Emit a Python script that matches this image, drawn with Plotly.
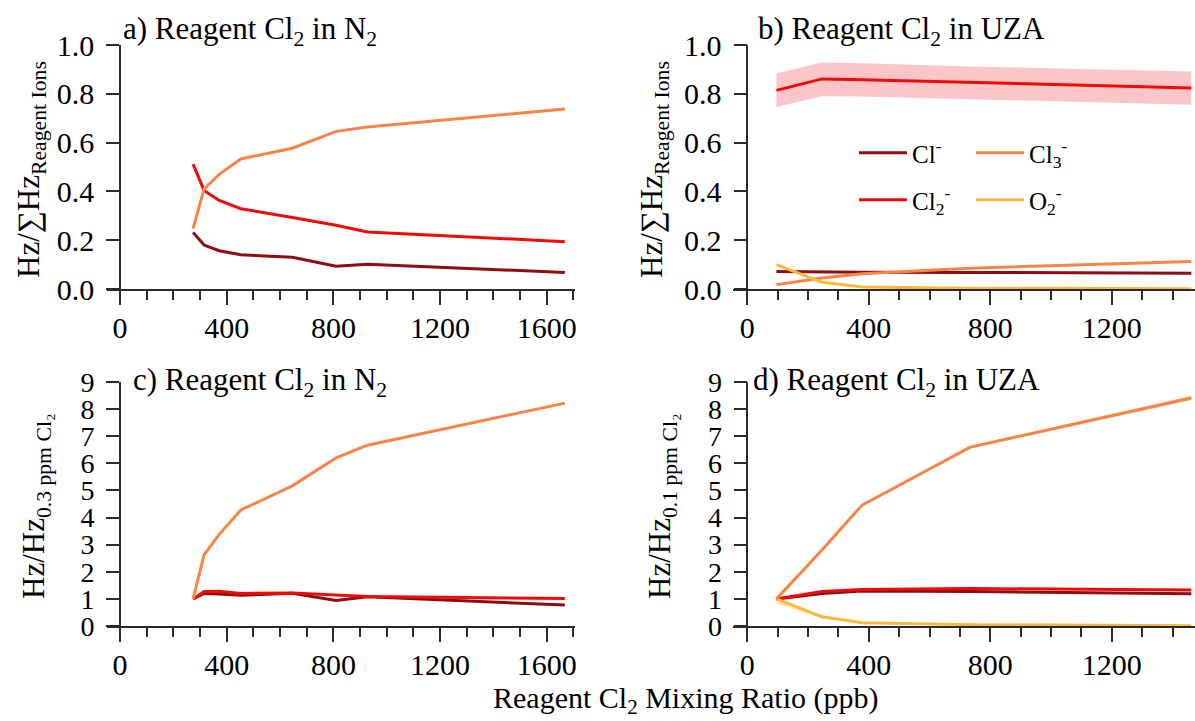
import plotly.graph_objects as go

# ---------------- data ----------------
# Reagent Cl2 in N2 (ppb)
x_n2 = [274, 315, 372, 453, 646, 810, 928, 1668]
a_cl = [0.232, 0.180, 0.157, 0.140, 0.130, 0.093, 0.101, 0.068]
a_cl2 = [0.512, 0.404, 0.363, 0.329, 0.293, 0.261, 0.234, 0.194]
a_cl3 = [0.248, 0.410, 0.470, 0.533, 0.577, 0.646, 0.664, 0.738]

c_cl = [1.0, 1.20, 1.18, 1.13, 1.21, 0.94, 1.08, 0.77]
c_cl2 = [1.0, 1.27, 1.28, 1.20, 1.22, 1.16, 1.09, 1.01]
c_cl3 = [1.0, 2.62, 3.38, 4.28, 5.17, 6.20, 6.67, 8.22]

# Reagent Cl2 in UZA (ppb)
x_uza = [96, 246, 378, 734, 1462]
b_cl = [0.072, 0.070, 0.069, 0.068, 0.065]
b_cl2 = [0.814, 0.861, 0.858, 0.846, 0.824]
b_cl2_hi = [0.884, 0.928, 0.925, 0.912, 0.891]
b_cl2_lo = [0.746, 0.790, 0.789, 0.778, 0.755]
b_cl3 = [0.018, 0.045, 0.062, 0.085, 0.113]
b_o2 = [0.100, 0.028, 0.008, 0.003, 0.001]

d_cl = [1.0, 1.20, 1.29, 1.27, 1.19]
d_cl2 = [1.0, 1.27, 1.35, 1.38, 1.33]
d_cl3 = [1.0, 2.80, 4.46, 6.60, 8.41]
d_cl3_hi = [1.0, 2.84, 4.50, 6.65, 8.49]
d_cl3_lo = [1.0, 2.76, 4.42, 6.55, 8.33]
d_o2 = [1.0, 0.34, 0.12, 0.05, 0.01]
d_o2_hi = [1.03, 0.38, 0.14, 0.06, 0.02]
d_o2_lo = [0.82, 0.28, 0.10, 0.04, 0.0]

names = {"cl": "Cl<sup>-</sup>", "cl2": "Cl<sub>2</sub><sup>-</sup>",
         "cl3": "Cl<sub>3</sub><sup>-</sup>", "o2": "O<sub>2</sub><sup>-</sup>"}
colors = {"cl": "#8E0C12", "cl2": "#F20A0A", "cl3": "#FA8446", "o2": "#F9B93A"}

FONT = "Liberation Serif, Times New Roman, serif"
W, H = 1195, 721

fig = go.Figure()


def line(x, y, key, xa, ya, legend=None):
    fig.add_trace(go.Scatter(
        x=x, y=y, mode="lines", name=names[key],
        line=dict(color=colors[key], width=3),
        xaxis=xa, yaxis=ya,
        showlegend=legend is not None,
        legend=legend if legend else "legend3",
    ))


def band(x, lo, hi, color, xa, ya):
    fig.add_trace(go.Scatter(x=x, y=hi, mode="lines", line=dict(width=0),
                             xaxis=xa, yaxis=ya, showlegend=False, hoverinfo="skip",
                             legend="legend3"))
    fig.add_trace(go.Scatter(x=x, y=lo, mode="lines", line=dict(width=0),
                             fill="tonexty", fillcolor=color, legend="legend3",
                             xaxis=xa, yaxis=ya, showlegend=False, hoverinfo="skip"))


# panel a
line(x_n2, a_cl, "cl", "x", "y")
line(x_n2, a_cl2, "cl2", "x", "y")
line(x_n2, a_cl3, "cl3", "x", "y")

# panel b
band(x_uza, b_cl2_lo, b_cl2_hi, "rgba(245,90,95,0.35)", "x2", "y2")
line(x_uza, b_cl, "cl", "x2", "y2", legend="legend")
line(x_uza, b_cl3, "cl3", "x2", "y2", legend="legend")
line(x_uza, b_cl2, "cl2", "x2", "y2", legend="legend2")
line(x_uza, b_o2, "o2", "x2", "y2", legend="legend2")

# panel c
line(x_n2, c_cl, "cl", "x3", "y3")
line(x_n2, c_cl2, "cl2", "x3", "y3")
line(x_n2, c_cl3, "cl3", "x3", "y3")

# panel d
band(x_uza, d_o2_lo, d_o2_hi, "rgba(249,185,58,0.35)", "x4", "y4")
band(x_uza, d_cl3_lo, d_cl3_hi, "rgba(250,132,70,0.35)", "x4", "y4")
line(x_uza, d_cl, "cl", "x4", "y4")
line(x_uza, d_cl2, "cl2", "x4", "y4")
line(x_uza, d_o2, "o2", "x4", "y4")
line(x_uza, d_cl3, "cl3", "x4", "y4")

AX = "#2a2a2a"


def xaxis(rng, dom, anchor):
    return dict(range=rng, domain=dom, anchor=anchor, showline=True, linecolor=AX,
                linewidth=1.6, ticks="outside", ticklen=14, tickwidth=1.6, tickcolor=AX,
                dtick=400, tick0=0, showgrid=False, zeroline=False,
                tickfont=dict(family=FONT, size=30, color="black"),
                automargin=False, ticklabelstandoff=-3,
                minor=dict(dtick=100, tick0=0, ticks="outside", ticklen=9,
                           tickwidth=1.6, tickcolor=AX, showgrid=False))


def yaxis(rng, dom, pos, dtick, fmt, size):
    return dict(range=rng, domain=dom, anchor="free", position=pos, showline=True,
                linecolor=AX, linewidth=1.6, ticks="outside", ticklen=13, tickwidth=1.6,
                tickcolor=AX, dtick=dtick, tick0=0, tickformat=fmt, showgrid=False,
                zeroline=False, tickfont=dict(family=FONT, size=size, color="black"),
                ticklabelstandoff=6, automargin=False)


# pixel geometry
xl0, xl1 = 106.7 / W, 575 / W
xr0, xr1 = 733 / W, 1.0
ytop = [1 - 289 / H, 1 - 45 / H]
ybot = [1 - 626 / H, 1 - 382 / H]

legfont = dict(family=FONT, size=25, color="black")
fig.update_layout(
    width=W, height=H,
    margin=dict(l=0, r=0, t=0, b=0, autoexpand=False),
    paper_bgcolor="white", plot_bgcolor="white",
    font=dict(family=FONT, color="black"),
    xaxis=xaxis([-50, 1706], [xl0, xl1], "y"),
    yaxis=yaxis([0, 1], ytop, 120 / W, 0.2, ".1f", 30),
    xaxis2=xaxis([-47, 1474], [xr0, xr1], "y2"),
    yaxis2=yaxis([0, 1], ytop, 747.3 / W, 0.2, ".1f", 30),
    xaxis3=xaxis([-50, 1706], [xl0, xl1], "y3"),
    yaxis3=yaxis([0, 9], ybot, 120 / W, 1, "d", 28),
    xaxis4=xaxis([-47, 1474], [xr0, xr1], "y4"),
    yaxis4=yaxis([0, 9], ybot, 747.3 / W, 1, "d", 28),
    legend=dict(orientation="h", x=854 / W, y=1 - 153 / H, xanchor="left", yanchor="middle",
                bgcolor="rgba(0,0,0,0)", font=legfont, traceorder="normal",
                itemwidth=48, entrywidth=54, entrywidthmode="pixels", itemclick=False),
    legend2=dict(orientation="h", x=854 / W, y=1 - 200 / H, xanchor="left", yanchor="middle",
                 bgcolor="rgba(0,0,0,0)", font=legfont, traceorder="normal",
                 itemwidth=48, entrywidth=54, entrywidthmode="pixels", itemclick=False),
    legend3=dict(visible=False),
)

titles = [
    ("a) Reagent Cl<sub>2</sub> in N<sub>2</sub>", 121, 31),
    ("b) Reagent Cl<sub>2</sub> in UZA", 756, 31),
    ("c) Reagent Cl<sub>2</sub> in N<sub>2</sub>", 131, 382),
    ("d) Reagent Cl<sub>2</sub> in UZA", 751, 382),
]
for txt, px, py in titles:
    fig.add_annotation(text=txt, x=px / W, y=1 - py / H, xref="paper", yref="paper",
                       xanchor="left", yanchor="middle", showarrow=False,
                       font=dict(family=FONT, size=31, color="black"))

ytitles = [
    ("Hz/∑Hz<sub>Reagent Ions</sub>", 31, 170),
    ("Hz/∑Hz<sub>Reagent Ions</sub>", 654, 170),
    ("Hz/Hz<sub>0.3 ppm Cl₂</sub>", 36, 507),
    ("Hz/Hz<sub>0.1 ppm Cl₂</sub>", 662, 507),
]
for txt, px, py in ytitles:
    fig.add_annotation(text=txt, x=px / W, y=1 - py / H, xref="paper", yref="paper",
                       xanchor="center", yanchor="middle", textangle=-90, showarrow=False,
                       font=dict(family=FONT, size=31, color="black"))

fig.add_annotation(text="Reagent Cl<sub>2</sub> Mixing Ratio (ppb)", x=685 / W, y=1 - 700 / H,
                   xref="paper", yref="paper", xanchor="center", yanchor="middle",
                   showarrow=False, font=dict(family=FONT, size=30, color="black"))

fig.write_html("out.html",
               config={"displayModeBar": False},
               post_script="document.body.style.margin='0px';"
                           "document.body.style.overflow='hidden';")
